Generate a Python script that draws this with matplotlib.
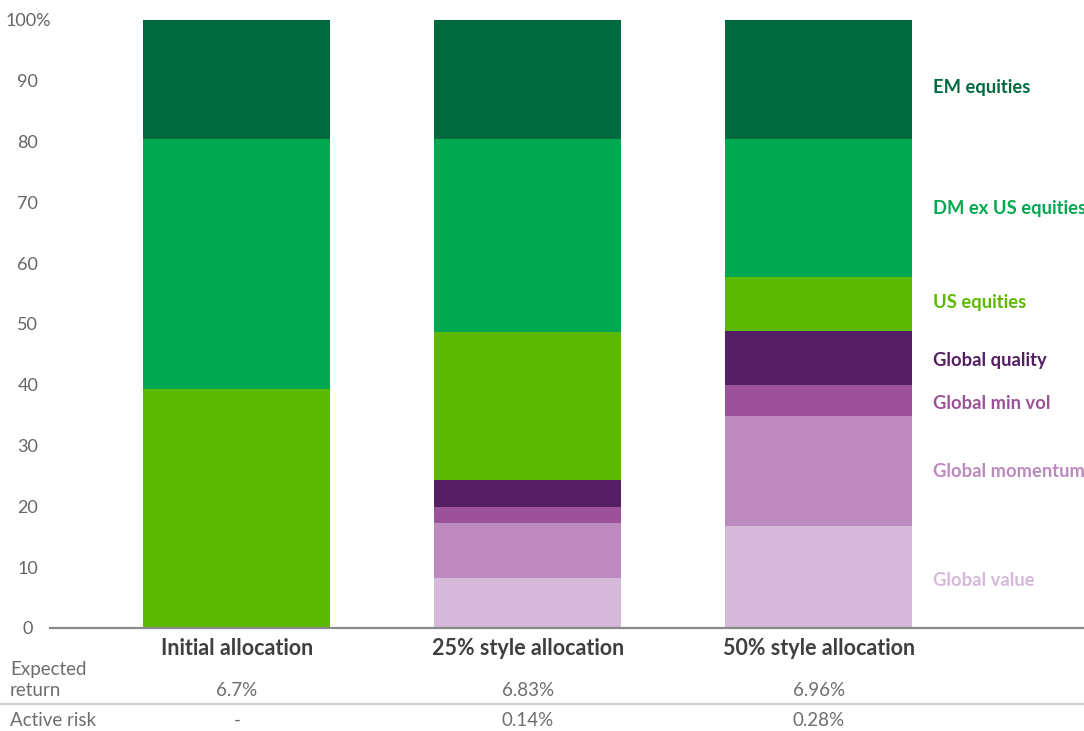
import matplotlib.pyplot as plt
from matplotlib import transforms

categories = ['Initial allocation', '25% style allocation', '50% style allocation']
segments = ['Global value', 'Global momentum', 'Global min vol', 'Global quality',
            'US equities', 'DM ex US equities', 'EM equities']
global_value = [0.0, 8.3, 16.7]
global_momentum = [0.0, 9.0, 18.2]
global_min_vol = [0.0, 2.6, 5.1]
global_quality = [0.0, 4.4, 8.9]
us_equities = [39.3, 24.4, 8.8]
dm_ex_us = [41.1, 31.7, 22.7]
em_equities = [19.6, 19.6, 19.6]
expected_return = ['6.7%', '6.83%', '6.96%']
active_risk = ['-', '0.14%', '0.28%']

series = [global_value, global_momentum, global_min_vol, global_quality,
          us_equities, dm_ex_us, em_equities]
colors = ['#d6b9d9', '#bc8abe', '#9c5299', '#541e63',
          '#5cb800', '#00a84f', '#006a3e']
# small vertical nudges (data units) for the side labels
label_nudge = [-0.5, 0.0, -0.6, -0.5, 0.2, 0.0, -1.3]

W, H = 1084, 731
fig = plt.figure(figsize=(W / 100, H / 100), dpi=100)
ax = fig.add_axes([50 / W, (H - 628) / H, (W - 50) / W, 608 / H])

x = range(len(categories))
bottom = [0.0] * len(categories)
for vals, c in zip(series, colors):
    ax.bar(x, vals, bottom=bottom, width=0.643, color=c, linewidth=0)
    bottom = [b + v for b, v in zip(bottom, vals)]

ax.set_xlim(-0.642, 2.911)
ax.set_ylim(0, 100)
for s in ['top', 'right', 'left']:
    ax.spines[s].set_visible(False)
ax.spines['bottom'].set_color('#8a8a8a')
ax.spines['bottom'].set_linewidth(1.6)

ax.set_yticks(range(0, 101, 10))
ax.set_yticklabels([str(v) for v in range(0, 100, 10)] + ['100%'])
ax.tick_params(axis='y', length=0, pad=16, labelsize=13, labelcolor='#666666')
for lbl in ax.get_yticklabels():
    lbl.set_horizontalalignment('center')
    lbl.set_fontfamily('Lato')

ax.set_xticks(list(x))
ax.set_xticklabels(categories, fontfamily='Lato', fontweight='bold',
                   fontsize=15.5, color='#3f3f3f')
ax.tick_params(axis='x', length=0, pad=7)

# segment names beside the last bar
base = 0.0
for name, vals, c, dy in zip(segments, series, colors, label_nudge):
    v = vals[-1]
    ax.text(2.392, base + v / 2 + dy, name, color=c, fontsize=13.2, fontfamily='Lato',
            fontweight='bold', va='center', ha='left', clip_on=False)
    base += v

# summary rows under the chart
tr = transforms.blended_transform_factory(ax.transData, fig.transFigure)
row_style = dict(fontsize=13.5, fontfamily='Lato', color='#6e6e6e')


def fy(py):
    return 1 - py / H


fig.text(10 / W, fy(670), 'Expected', va='center', ha='left', **row_style)
fig.text(10 / W, fy(691), 'return', va='center', ha='left', **row_style)
fig.text(10 / W, fy(720), 'Active risk', va='center', ha='left', **row_style)
for i in x:
    ax.text(i, fy(691), expected_return[i], transform=tr, ha='center', va='center',
            clip_on=False, **row_style)
    ax.text(i, fy(720), active_risk[i], transform=tr, ha='center', va='center',
            clip_on=False, **row_style)

fig.add_artist(plt.Line2D([0, 1], [fy(704), fy(704)], color='#cfcfcf', linewidth=1.5,
                          transform=fig.transFigure))

fig.savefig('out.png', dpi=100)
